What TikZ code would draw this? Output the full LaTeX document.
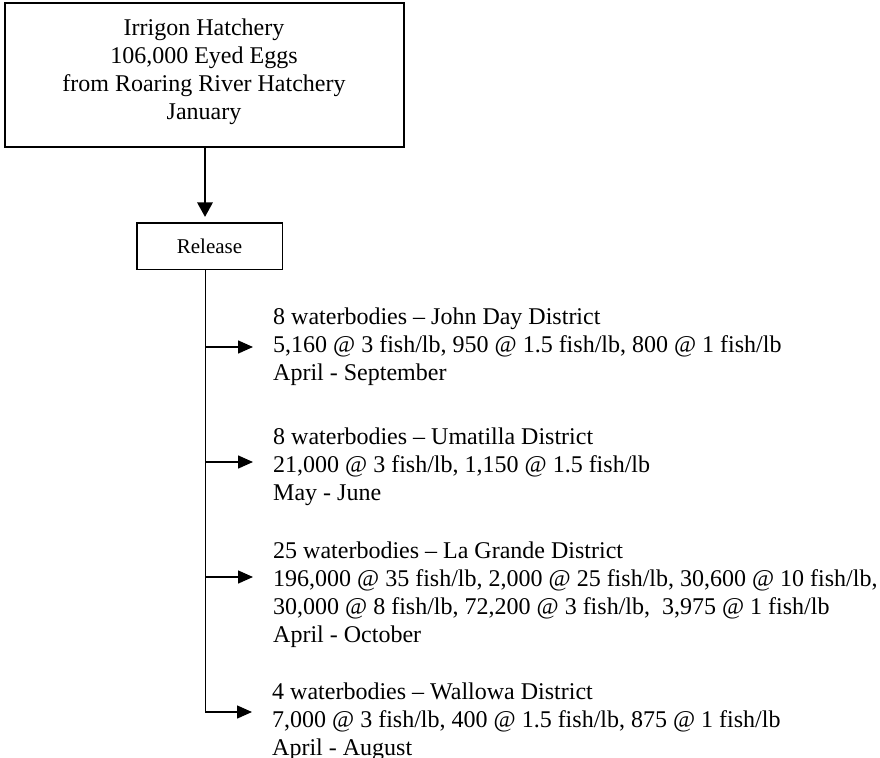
\documentclass[tikz,border=0pt]{standalone}
\usepackage{fontspec}
\setmainfont{Liberation Serif}
\usetikzlibrary{arrows.meta}
\begin{document}
\begin{tikzpicture}[x=1pt,y=-1pt,
  txt/.style={font=\fontsize{24}{27.8}\selectfont, inner sep=0pt},
  blk/.style={txt, align=left, anchor=base west},
  bigarr/.style={line width=1.6pt, -{Triangle[length=14.5pt,width=15.5pt]}},
  brarr/.style={line width=1.5pt, -{Triangle[length=15pt,width=13pt]}, shorten >=20pt}]
\useasboundingbox (0,0) rectangle (880,757);
\node[draw, line width=2.5pt, minimum width=399pt, minimum height=143.7pt, inner sep=0pt] (topbox) at (204.5,74.9) {};
\node[txt, font=\fontsize{24}{28.1}\selectfont, align=center, anchor=base] (toptext) at (204,120) {Irrigon Hatchery\\106,000 Eyed Eggs\\from Roaring River Hatchery\\January};
\node[draw, line width=1.6pt, minimum width=145.6pt, minimum height=46.6pt, inner sep=0pt, font=\fontsize{21}{24}\selectfont] (release) at (209.5,246) {Release};
\coordinate (ax) at (205,0);
\draw[bigarr, shorten >=5pt] (topbox.south -| ax) -- (release.north -| ax);
\coordinate (tx) at (205.5,0);
\coordinate (tjd) at (205.5,347);
\coordinate (tum) at (205.5,462);
\coordinate (tlg) at (205.5,577);
\coordinate (twa) at (205.5,712);
\node[blk] (jd) at (273,380) {8 waterbodies – John Day District\\5,160 @ 3 fish/lb, 950 @ 1.5 fish/lb, 800 @ 1 fish/lb\\April - September};
\node[blk] (um) at (273,500) {8 waterbodies – Umatilla District\\21,000 @ 3 fish/lb, 1,150 @ 1.5 fish/lb\\May - June};
\node[blk] (lg) at (273,642) {25 waterbodies – La Grande District\\196,000 @ 35 fish/lb, 2,000 @ 25 fish/lb, 30,600 @ 10 fish/lb,\\30,000 @ 8 fish/lb, 72,200 @ 3 fish/lb, \ 3,975 @ 1 fish/lb\\April - October};
\node[blk] (wa) at (272,755.5) {4 waterbodies – Wallowa District\\7,000 @ 3 fish/lb, 400 @ 1.5 fish/lb, 875 @ 1 fish/lb\\April - August};
\draw[brarr] (release.south -| tx) -- (twa) -- (wa.west |- twa);
\draw[brarr] (tjd) -- (jd.west |- tjd);
\draw[brarr] (tum) -- (um.west |- tum);
\draw[brarr] (tlg) -- (lg.west |- tlg);
\end{tikzpicture}
\end{document}
